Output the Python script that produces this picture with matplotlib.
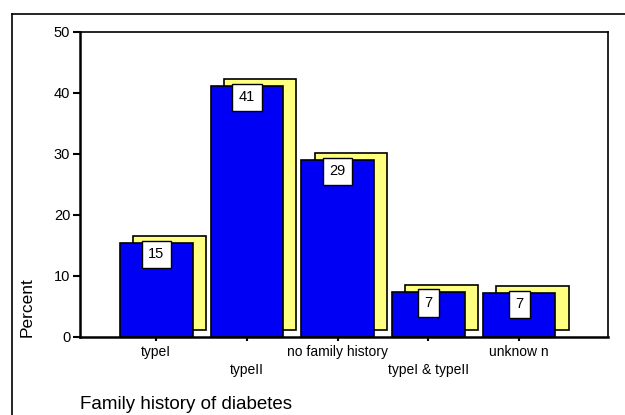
import matplotlib.pyplot as plt
from matplotlib.lines import Line2D

plt.rcParams['font.family'] = ['Liberation Sans', 'DejaVu Sans']

categories = ['typeI', 'typeII', 'no family history', 'typeI & typeII', 'unknow n']
percent = [15.4, 41.1, 29.0, 7.4, 7.2]
labels = ['15', '41', '29', '7', '7']
yticks = [0, 10, 20, 30, 40, 50]

fig = plt.figure(figsize=(6.25, 4.15), dpi=100)
ax = fig.add_axes([0.128, 0.188, 0.845, 0.735])

x = list(range(len(categories)))
width = 0.8
shift = 0.145
lift = 1.15

# yellow "3D" shadow behind each bar
ax.bar([i + shift for i in x], percent, width=width, bottom=lift,
       color='#FFFF80', edgecolor='black', linewidth=1.2, zorder=1)
ax.bar(x, percent, width=width, color='#0000F5', edgecolor='black',
       linewidth=1.2, zorder=2)

for i, v in enumerate(percent):
    ax.annotate(labels[i], (x[i], v), xytext=(0, -3), textcoords='offset points',
                ha='center', va='top', fontsize=10.5, zorder=3,
                bbox=dict(boxstyle='square,pad=0.45', fc='white', ec='black', lw=1))

ax.set_xlim(-0.84, 4.98)
ax.set_ylim(0, 50)
ax.set_yticks(yticks)
ax.set_xticks(x)
ax.set_xticklabels(categories, fontsize=10)
ax.tick_params(axis='y', direction='out', length=5, width=1.5, labelsize=10.5, pad=2)
ax.tick_params(axis='x', direction='out', length=3, width=1.5, pad=3)
for i, t in enumerate(ax.xaxis.get_major_ticks()):
    if i % 2 == 1:
        t.set_pad(16)
for s in ax.spines.values():
    s.set_linewidth(1.2)
ax.spines['left'].set_linewidth(1.8)
ax.spines['bottom'].set_linewidth(1.8)

ax.set_ylabel('Percent', loc='bottom', fontsize=12.5, labelpad=14)
fig.text(80 / 625, 1 - 404 / 415, 'Family history of diabetes', fontsize=13.5,
         ha='left', va='center')

# outer frame (left and top edges visible)
fig.add_artist(Line2D([12 / 625, 12 / 625], [0, 1 - 14 / 415], color='black', lw=1.2))
fig.add_artist(Line2D([12 / 625, 1], [1 - 14 / 415, 1 - 14 / 415], color='black', lw=1.2))

fig.savefig('out.png', dpi=100)
